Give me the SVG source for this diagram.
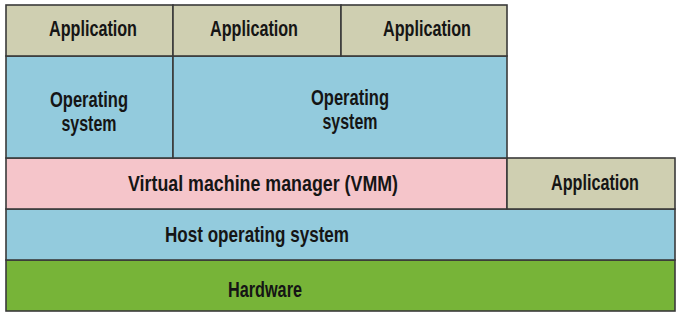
<svg xmlns="http://www.w3.org/2000/svg" width="680" height="318" viewBox="0 0 680 318">
  <style>
    .box { stroke: #3a3a3a; stroke-width: 1.6; }
    .app { fill: #cfcfb1; }
    .os { fill: #93cbdd; }
    .vmm { fill: #f5c5ca; }
    .hw { fill: #77b438; }
    .lbl { font-family: "Liberation Sans", Arial, sans-serif; font-size: 22px; font-weight: bold; fill: #151515; text-anchor: middle; }
  </style>
  <rect x="0" y="0" width="680" height="318" fill="#fff"/>
  <g id="hardware">
    <rect class="box hw" x="6" y="260" width="669" height="51"/>
    <text class="lbl" x="265" y="297" textLength="74" lengthAdjust="spacingAndGlyphs">Hardware</text>
  </g>
  <g id="host-os">
    <rect class="box os" x="6" y="209" width="669" height="51"/>
    <text class="lbl" x="257" y="242" textLength="184" lengthAdjust="spacingAndGlyphs">Host operating system</text>
  </g>
  <g id="vmm">
    <rect class="box vmm" x="6" y="158" width="501" height="51"/>
    <text class="lbl" x="263" y="191" textLength="270" lengthAdjust="spacingAndGlyphs">Virtual machine manager (VMM)</text>
  </g>
  <g id="host-app">
    <rect class="box app" x="507" y="158" width="168" height="51"/>
    <text class="lbl" x="595" y="190" textLength="88" lengthAdjust="spacingAndGlyphs">Application</text>
  </g>
  <g id="guest-os-1">
    <rect class="box os" x="6" y="56" width="167" height="102"/>
    <text class="lbl" x="89" y="107" textLength="78" lengthAdjust="spacingAndGlyphs">Operating</text>
    <text class="lbl" x="89" y="131" textLength="55" lengthAdjust="spacingAndGlyphs">system</text>
  </g>
  <g id="guest-os-2">
    <rect class="box os" x="173" y="56" width="334" height="102"/>
    <text class="lbl" x="350" y="105" textLength="78" lengthAdjust="spacingAndGlyphs">Operating</text>
    <text class="lbl" x="350" y="129" textLength="55" lengthAdjust="spacingAndGlyphs">system</text>
  </g>
  <g id="app-1">
    <rect class="box app" x="6" y="5" width="167" height="51"/>
    <text class="lbl" x="93" y="36" textLength="88" lengthAdjust="spacingAndGlyphs">Application</text>
  </g>
  <g id="app-2">
    <rect class="box app" x="173" y="5" width="168" height="51"/>
    <text class="lbl" x="254" y="36" textLength="88" lengthAdjust="spacingAndGlyphs">Application</text>
  </g>
  <g id="app-3">
    <rect class="box app" x="341" y="5" width="166" height="51"/>
    <text class="lbl" x="427" y="36" textLength="88" lengthAdjust="spacingAndGlyphs">Application</text>
  </g>
  <g id="connectors"/>
</svg>
